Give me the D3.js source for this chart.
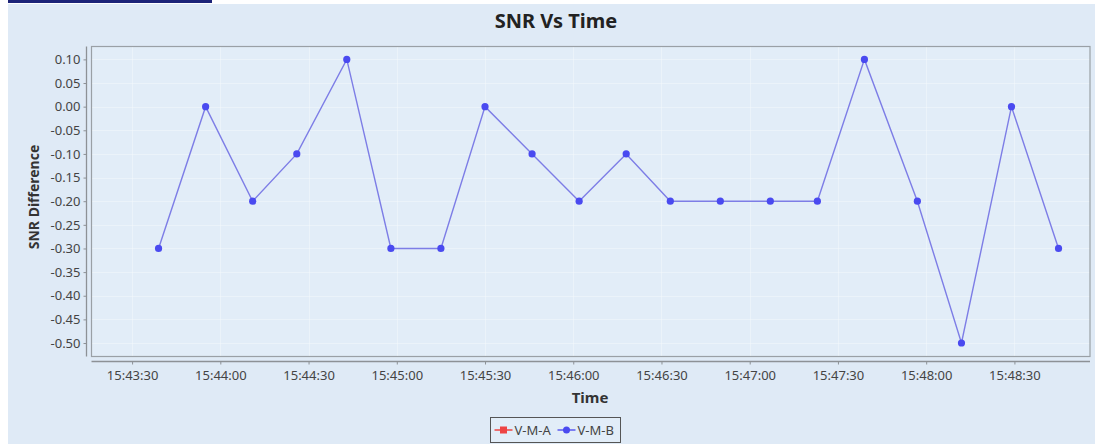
<!DOCTYPE html>
<html>
<head>
<meta charset="utf-8">
<script src="https://cdn.jsdelivr.net/npm/d3@7"></script>
<style>
  html, body { margin: 0; padding: 0; background: #ffffff; }
  svg { display: block; font-family: "Noto Sans", "Open Sans", sans-serif; }
</style>
</head>
<body>
<svg width="1095" height="444"></svg>
<script>
// series data (times on the same day)
var seriesNames = ["V-M-A", "V-M-B"];
var seriesColors = ["#ee4444", "#4a4af0"];
var timesB = ["15:43:39", "15:43:55", "15:44:11", "15:44:26", "15:44:43", "15:44:58",
              "15:45:15", "15:45:30", "15:45:46", "15:46:02", "15:46:18", "15:46:33",
              "15:46:50", "15:47:07", "15:47:23", "15:47:39", "15:47:57", "15:48:12",
              "15:48:29", "15:48:45"];
var valuesB = [-0.3, 0.0, -0.2, -0.1, 0.1, -0.3, -0.3, 0.0, -0.1, -0.2, -0.1, -0.2,
               -0.2, -0.2, -0.2, 0.1, -0.2, -0.5, 0.0, -0.3];
var timesA = [];
var valuesA = [];
var yTicks = [0.10, 0.05, 0.00, -0.05, -0.10, -0.15, -0.20, -0.25, -0.30, -0.35, -0.40, -0.45, -0.50];
var xTicks = ["15:43:30", "15:44:00", "15:44:30", "15:45:00", "15:45:30", "15:46:00",
              "15:46:30", "15:47:00", "15:47:30", "15:48:00", "15:48:30"];
var xDomain = ["15:43:16.2", "15:48:55.7"];
var yDomain = [-0.53, 0.13];

var parseT = function(s) {
    var p = s.split(":");
    var sec = +p[2];
    return new Date(2020, 0, 1, +p[0], +p[1], Math.floor(sec), Math.round((sec % 1) * 1000));
};

var svg = d3.select("svg");

// panel background
svg.append("rect").attr("x", 8).attr("y", 4).attr("width", 1087).attr("height", 440)
    .attr("fill", "#dfeaf6");
svg.append("rect").attr("x", 8).attr("y", 0).attr("width", 204).attr("height", 3)
    .attr("fill", "#1c2378");

var plot = {left: 91.5, top: 46.5, right: 1090, bottom: 356.5};

var x = d3.scaleTime()
    .domain(xDomain.map(parseT))
    .range([plot.left, plot.right]);

var y = d3.scaleLinear()
    .domain(yDomain)
    .range([357.2, 45.2]);

// plot background
svg.append("rect")
    .attr("x", plot.left).attr("y", plot.top)
    .attr("width", plot.right - plot.left).attr("height", plot.bottom - plot.top)
    .attr("fill", "#e2edf8");

// gridlines
var grid = svg.append("g").attr("stroke", "#ffffff").attr("stroke-width", 1)
    .attr("stroke-dasharray", "1,1").attr("opacity", 0.7);
grid.selectAll(".gx").data(xTicks.map(parseT)).enter().append("line")
    .attr("x1", function(d) { return Math.round(x(d)) + 0.5; })
    .attr("x2", function(d) { return Math.round(x(d)) + 0.5; })
    .attr("y1", plot.top).attr("y2", plot.bottom);
grid.selectAll(".gy").data(yTicks).enter().append("line")
    .attr("y1", function(d) { return Math.round(y(d)) + 0.5; })
    .attr("y2", function(d) { return Math.round(y(d)) + 0.5; })
    .attr("x1", plot.left).attr("x2", plot.right);

// plot outline
svg.append("rect")
    .attr("x", plot.left).attr("y", plot.top)
    .attr("width", plot.right - plot.left).attr("height", plot.bottom - plot.top)
    .attr("fill", "none").attr("stroke", "#9aa0a6").attr("stroke-width", 1.2);

// axes
var yAxis = d3.axisLeft(y)
    .tickValues(yTicks)
    .tickSize(3)
    .tickPadding(3)
    .tickFormat(function(d) { return d3.format(".2f")(d).replace("\u2212", "-"); });

var gy = svg.append("g").attr("transform", "translate(86.5,0)").call(yAxis);
gy.select(".domain").attr("d", "M0," + plot.top + "V" + plot.bottom)
    .attr("stroke", "#8d9196").attr("stroke-width", 1.3);

var xAxis = d3.axisBottom(x)
    .tickValues(xTicks.map(parseT))
    .tickSize(3)
    .tickPadding(6)
    .tickFormat(d3.timeFormat("%H:%M:%S"));

var gx = svg.append("g").attr("transform", "translate(0,361.5)").call(xAxis);
gx.select(".domain").attr("d", "M" + plot.left + ",0H" + plot.right)
    .attr("stroke", "#8d9196").attr("stroke-width", 1.3);

svg.selectAll(".tick line").attr("stroke", "#8d9196");
svg.selectAll(".tick text").attr("fill", "#444444")
    .style("font-family", "'Noto Sans', 'Open Sans', sans-serif").style("font-size", "13px");

// titles
svg.append("text").attr("x", 556).attr("y", 27.5).attr("text-anchor", "middle")
    .style("font-size", "20px").style("font-weight", "bold").attr("fill", "#222")
    .text("SNR Vs Time");

svg.append("text").attr("x", 590).attr("y", 403).attr("text-anchor", "middle")
    .style("font-size", "15px").style("font-weight", "bold").attr("fill", "#333")
    .text("Time");

svg.append("text").attr("transform", "translate(38.5,197) rotate(-90)").attr("text-anchor", "middle")
    .style("font-size", "14px").style("font-weight", "bold").attr("fill", "#333")
    .text("SNR Difference");

// series
var line = d3.line()
    .x(function(d) { return x(d.t); })
    .y(function(d) { return y(d.v); });

var dataA = timesA.map(function(t, i) { return {t: parseT(t), v: valuesA[i]}; });
var dataB = timesB.map(function(t, i) { return {t: parseT(t), v: valuesB[i]}; });

svg.append("path").datum(dataA).attr("d", line)
    .attr("fill", "none").attr("stroke", seriesColors[0]).attr("stroke-width", 1.4);
svg.selectAll(".ptA").data(dataA).enter().append("rect")
    .attr("x", function(d) { return x(d.t) - 3; }).attr("y", function(d) { return y(d.v) - 3; })
    .attr("width", 6).attr("height", 6).attr("fill", seriesColors[0]);

svg.append("path").datum(dataB).attr("d", line)
    .attr("fill", "none").attr("stroke", "#7d7de6").attr("stroke-width", 1.4);
svg.selectAll(".ptB").data(dataB).enter().append("circle")
    .attr("cx", function(d) { return x(d.t); }).attr("cy", function(d) { return y(d.v); })
    .attr("r", 3.6).attr("fill", seriesColors[1]);

// legend
var lg = svg.append("g").attr("transform", "translate(490.5,417.5)");
lg.append("rect").attr("width", 130).attr("height", 25)
    .attr("fill", "#e2edf8").attr("stroke", "#555").attr("stroke-width", 1);
var items = lg.selectAll(".item").data(seriesNames).enter().append("g")
    .attr("transform", function(d, i) { return "translate(" + (4 + i * 63) + ",12.5)"; });
items.append("line").attr("x1", 0).attr("x2", 18).attr("y1", 0).attr("y2", 0)
    .attr("stroke", function(d, i) { return i === 0 ? seriesColors[0] : "#5a5af0"; })
    .attr("stroke-width", 1.5);
items.filter(function(d, i) { return i === 0; }).append("rect")
    .attr("x", 5.5).attr("y", -3.5).attr("width", 7).attr("height", 7).attr("fill", seriesColors[0]);
items.filter(function(d, i) { return i === 1; }).append("circle")
    .attr("cx", 9).attr("cy", 0).attr("r", 3.5).attr("fill", seriesColors[1]);
items.append("text").attr("x", 20).attr("y", 4.6)
    .style("font-size", "13px").attr("fill", "#444").text(function(d) { return d; });
</script>
</body>
</html>
